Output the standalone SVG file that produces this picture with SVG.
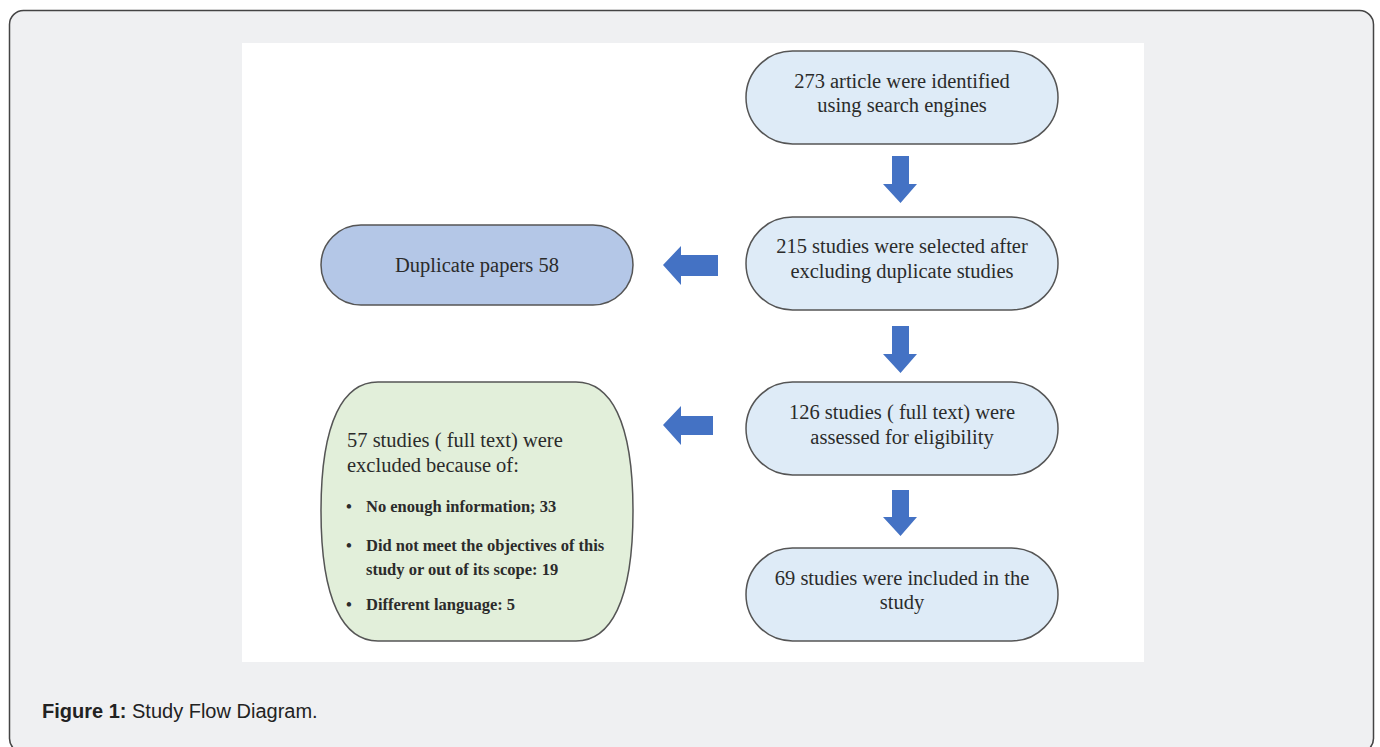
<svg xmlns="http://www.w3.org/2000/svg" width="1380" height="747" viewBox="0 0 1380 747">
<style>
.t{font-family:"Liberation Serif","DejaVu Serif",serif;font-size:20.5px;fill:#2b2b2b;text-anchor:middle}
.l{font-family:"Liberation Serif","DejaVu Serif",serif;font-size:20.5px;fill:#2b2b2b}
.b{font-family:"Liberation Serif","DejaVu Serif",serif;font-size:16.5px;fill:#2b2b2b;font-weight:bold}
.pill{fill:#deebf7;stroke:#555;stroke-width:1.5}
.arr{fill:#4472c4}
</style>
<rect x="9.5" y="10.5" width="1364" height="742" rx="14" fill="#eff0f2" stroke="#444" stroke-width="1.5"/>
<rect x="242" y="43" width="902" height="619" fill="#fff"/>
<g id="connectors">
<polygon class="arr" points="892,156 909,156 909,184 917,184 900.5,203 883,184 892,184"/>
<polygon class="arr" points="892,326 909,326 909,354 917,354 900.5,373 883,354 892,354"/>
<polygon class="arr" points="892,490 909,490 909,517 917,517 900.5,536 883,517 892,517"/>
<polygon class="arr" points="718,255 718,276 681,276 681,285 663,265 681,246 681,255"/>
<polygon class="arr" points="713,416 713,435 681,435 681,445 663,425 681,406 681,416"/>
</g>
<g id="n1"><rect class="pill" x="746" y="51" width="312" height="93" rx="46.5"/>
<text class="t" x="902" y="88">273 article were identified</text><text class="t" x="902" y="112">using search engines</text></g>
<g id="n2"><rect class="pill" x="746" y="217" width="312" height="93" rx="46.5"/>
<text class="t" x="902" y="253">215 studies were selected after</text><text class="t" x="902" y="278">excluding duplicate studies</text></g>
<g id="n3"><rect x="321" y="225" width="312" height="80" rx="40" fill="#b4c7e7" stroke="#555" stroke-width="1.5"/>
<text class="t" x="477" y="272">Duplicate papers 58</text></g>
<g id="n4"><rect class="pill" x="746" y="382" width="312" height="93" rx="46.5"/>
<text class="t" x="902" y="419">126 studies ( full text) were</text><text class="t" x="902" y="444">assessed  for eligibility</text></g>
<g id="n5"><rect class="pill" x="746" y="548" width="312" height="93" rx="46.5"/>
<text class="t" x="902" y="585">69 studies were included in the</text><text class="t" x="902" y="609">study</text></g>
<g id="n6"><path d="M378,382 L576,382 C610,382 633,420 633,511 C633,602 610,641 576,641 L378,641 C344,641 321,602 321,511 C321,420 344,382 378,382 Z" fill="#e2efda" stroke="#555" stroke-width="1.5"/>
<text class="l" x="347" y="447">57 studies ( full text) were</text>
<text class="l" x="347" y="472">excluded because of:</text>
<text class="b" x="346" y="512">•</text><text class="b" x="366" y="512">No enough information; 33</text>
<text class="b" x="346" y="551">•</text><text class="b" x="366" y="551">Did not meet the objectives of this</text>
<text class="b" x="366" y="575">study or out of its scope: 19</text>
<text class="b" x="346" y="610">•</text><text class="b" x="366" y="610">Different language: 5</text></g>
<text x="42" y="718" font-family="Liberation Sans,Arial,sans-serif" font-size="20" fill="#222"><tspan font-weight="bold">Figure 1:</tspan> Study Flow Diagram.</text>
</svg>
